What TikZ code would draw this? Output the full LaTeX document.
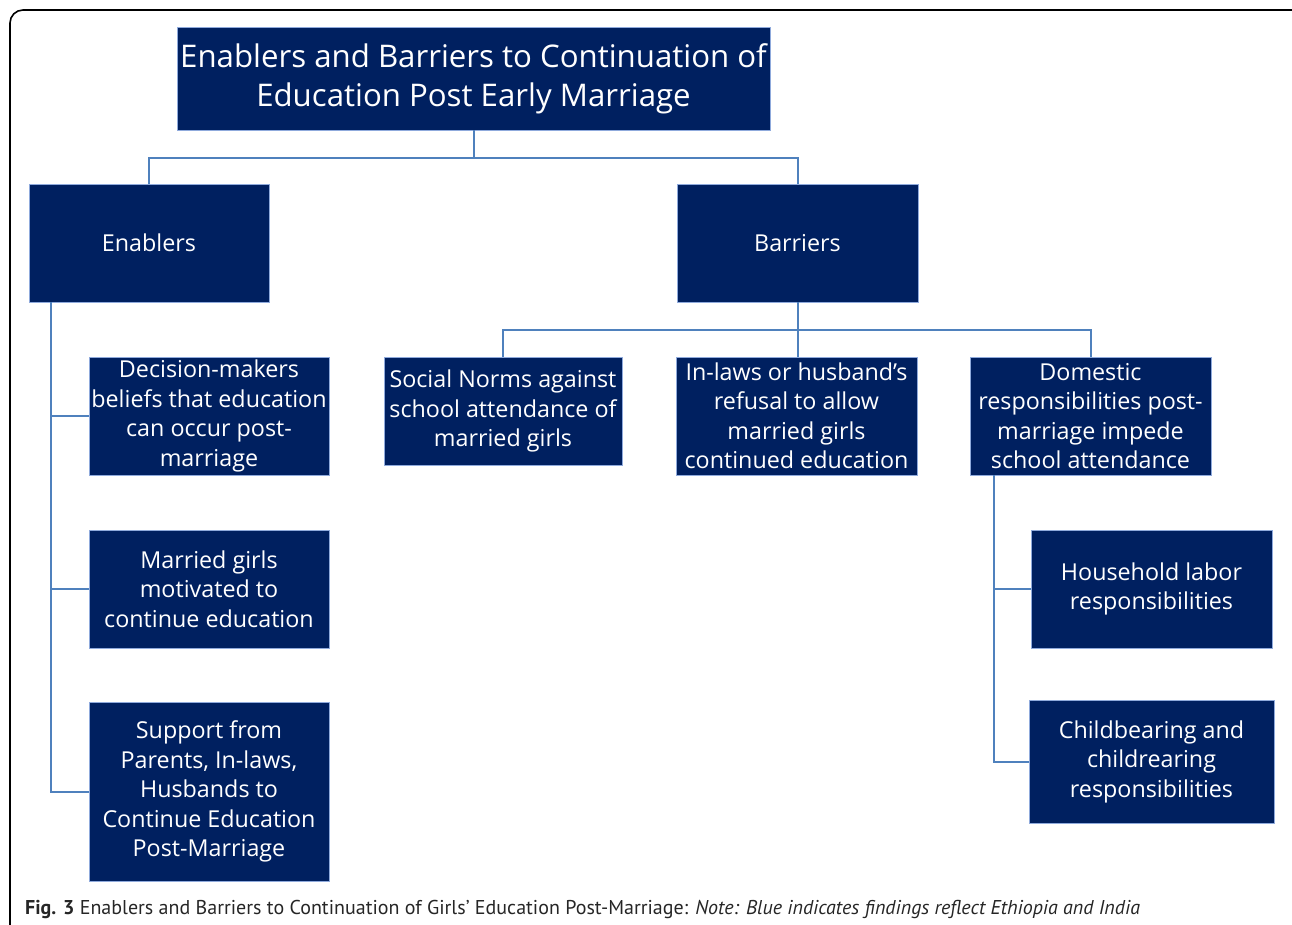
\documentclass[tikz,border=0pt]{standalone}
\usepackage{fontspec}
\setmainfont{Open Sans}
\newfontfamily\capfont{PT Sans}
\definecolor{navy}{HTML}{002060}
\definecolor{edgeblue}{HTML}{8FAADC}
\definecolor{conn}{HTML}{4F81BD}
\tikzset{
  box/.style={fill=navy, draw=edgeblue, line width=0.8pt, text=white, align=center,
    inner sep=0pt, font=\fontsize{23.3}{29.5}\selectfont},
  link/.style={draw=conn, line width=2pt},
}
\begin{document}
\begin{tikzpicture}[x=1pt,y=-1pt]
\useasboundingbox (0,0) rectangle (1292,925);
\clip (0,0) rectangle (1292,925);
\draw[line width=1.6pt, rounded corners=13pt] (10,10) rectangle (1310,945);

\node[box, minimum width=593pt, minimum height=103pt, font=\fontsize{31.2}{39}\selectfont] (title) at (473.5,78.5)
  {Enablers and Barriers to Continuation of\\Education Post Early Marriage};

\node[box, minimum width=240pt, minimum height=118pt] (enab) at (149,243) {Enablers};
\node[box, minimum width=241pt, minimum height=118pt] (barr) at (797.5,243) {Barriers};

\node[box, minimum width=240pt, minimum height=118pt] (e1) at (209,416)
  {Decision-makers\\beliefs that education\\can occur post-\\marriage};
\node[box, minimum width=240pt, minimum height=118pt] (e2) at (209,589)
  {Married girls\\motivated to\\continue education};
\node[box, minimum width=240pt, minimum height=179pt] (e3) at (209,791.5)
  {Support from\\Parents, In-laws,\\Husbands to\\Continue Education\\Post-Marriage};

\node[box, minimum width=238pt, minimum height=108pt] (b1) at (503,411)
  {Social Norms against\\school attendance of\\married girls};
\node[box, minimum width=241pt, minimum height=118pt] (b2) at (796.5,416)
  {In-laws or husband’s\\refusal to allow\\married girls\\continued education};
\node[box, minimum width=241pt, minimum height=118pt] (b3) at (1090.5,416)
  {Domestic\\responsibilities post-\\marriage impede\\school attendance};

\node[box, minimum width=241pt, minimum height=118pt] (h1) at (1151.5,589)
  {Household labor\\responsibilities};
\node[box, minimum width=245pt, minimum height=123pt] (h2) at (1151.5,761.5)
  {Childbearing and\\childrearing\\responsibilities};

% connectors
\draw[link] (title.south) -- ++(0,28) coordinate (tm);
\draw[link] (tm) -| (enab.north);
\draw[link] (tm) -| (barr.north);

\coordinate (el) at ([xshift=22pt]enab.south west);
\draw[link] (el) |- (e1.west);
\draw[link] (el) |- (e2.west);
\draw[link] (el) |- (e3.west);

\draw[link] (barr.south) -- ++(0,28) coordinate (bm);
\draw[link] (bm) -| (b1.north);
\draw[link] (bm) -- (bm |- b2.north);
\draw[link] (bm) -| (b3.north);

\coordinate (dl) at ([xshift=24pt]b3.south west);
\draw[link] (dl) |- (h1.west);
\draw[link] (dl) |- (h2.west);

\node[anchor=west, inner sep=0pt, font=\capfont\fontsize{20}{22}\selectfont, text=black!85] (cap) at (25,909)
  {\textbf{Fig. 3} Enablers and Barriers to Continuation of Girls’ Education Post-Marriage: \textit{Note: Blue indicates findings reflect Ethiopia and India}};
\end{tikzpicture}
\end{document}
